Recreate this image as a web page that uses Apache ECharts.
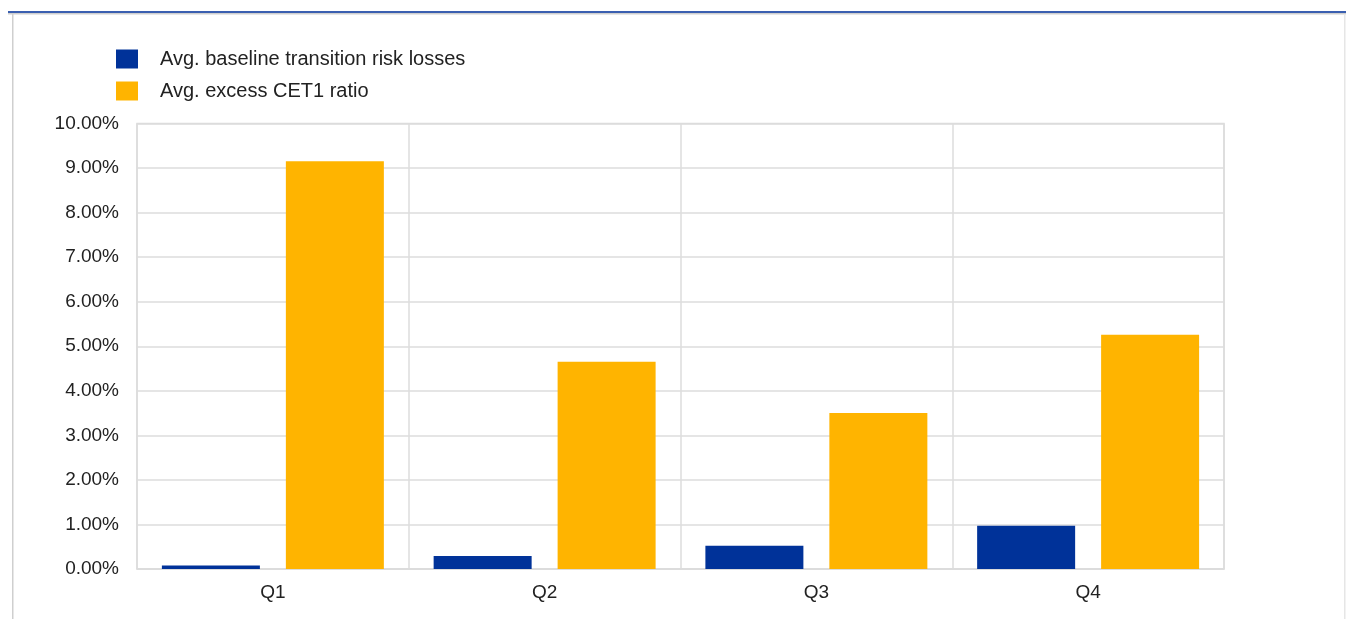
<!DOCTYPE html>
<html>
<head>
<meta charset="utf-8">
<script src="https://cdn.jsdelivr.net/npm/echarts@6/dist/echarts.min.js"></script>
<style>
html,body{margin:0;padding:0;background:#fff;}
#chart{width:1346px;height:619px;}
</style>
</head>
<body>
<div id="chart"></div>
<script>
var categories = ['Q1', 'Q2', 'Q3', 'Q4'];
var baselineLosses = [0.08, 0.29, 0.52, 0.97];
var excessCET1 = [9.15, 4.65, 3.50, 5.26];
var seriesNames = ['Avg. baseline transition risk losses', 'Avg. excess CET1 ratio'];

var chart = echarts.init(document.getElementById('chart'));
var font = 'Liberation Sans, Arial, sans-serif';
chart.setOption({
  animation: false,
  backgroundColor: '#ffffff',
  textStyle: { fontFamily: font },
  graphic: [
    { type: 'rect', shape: { x: 8, y: 11, width: 1338, height: 2 }, style: { fill: '#3a5fb0' }, silent: true },
    { type: 'rect', shape: { x: 8, y: 13, width: 1338, height: 1.5 }, style: { fill: '#cfcfcf' }, silent: true },
    { type: 'rect', shape: { x: 12, y: 14, width: 1.5, height: 605 }, style: { fill: '#cfcfcf' }, silent: true },
    { type: 'rect', shape: { x: 1344, y: 14, width: 1.5, height: 605 }, style: { fill: '#e6e6e6' }, silent: true }
  ],
  legend: {
    orient: 'vertical',
    left: 116,
    top: 49,
    padding: 0,
    itemWidth: 22,
    itemHeight: 19,
    itemGap: 12,
    icon: 'rect',
    textStyle: { fontSize: 20, color: '#222', fontFamily: font, padding: [0, 0, 0, 17] },
    data: seriesNames
  },
  grid: {
    left: 137, right: 122, top: 123.5, bottom: 50,
    show: true, borderColor: '#dcdcdc', borderWidth: 1.5
  },
  xAxis: {
    type: 'category',
    data: categories,
    axisLine: { show: true, lineStyle: { color: '#dcdcdc', width: 1.5 } },
    axisTick: { show: false },
    splitLine: { show: true, lineStyle: { color: '#dcdcdc', width: 1.5 } },
    axisLabel: { fontSize: 19, color: '#222', margin: 14, fontFamily: font }
  },
  yAxis: {
    type: 'value',
    min: 0, max: 10, interval: 1,
    axisLine: { show: false },
    axisTick: { show: false },
    splitLine: { show: true, lineStyle: { color: '#dcdcdc', width: 1.5 } },
    axisLabel: { fontSize: 19, color: '#222', margin: 18, fontFamily: font,
      formatter: function (v) { return v.toFixed(2) + '%'; } }
  },
  series: [
    { name: seriesNames[0], type: 'bar', data: baselineLosses, barWidth: 98, barGap: '26.5%',
      itemStyle: { color: '#003299' } },
    { name: seriesNames[1], type: 'bar', data: excessCET1, barWidth: 98,
      itemStyle: { color: '#ffb400' } }
  ]
});
</script>
</body>
</html>
